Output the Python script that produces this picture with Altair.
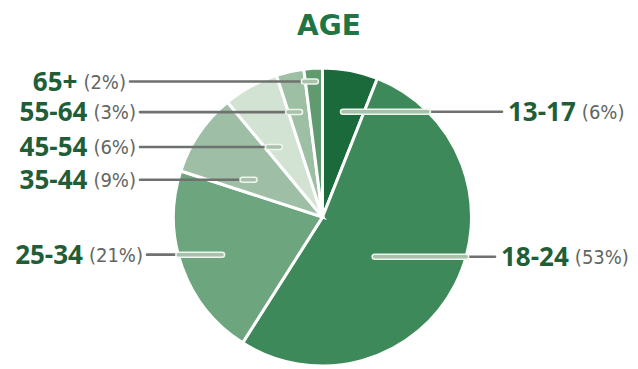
import altair as alt
import pandas as pd
import numpy as np

# ---- data ----
categories = ["13-17", "18-24", "25-34", "35-44", "45-54", "55-64", "65+"]
shares = [6, 53, 21, 9, 6, 3, 2]
title_text = ["AGE"]

# ---- style / layout ----
colors = ["#1b6a3b", "#3d8959", "#6ca57e", "#9ebfa6", "#d2e3d3", "#9dc0a4", "#5f9b6e"]
W, H = 638, 369
CX, CY, R = 322.5, 217.0, 149.0
anchor_f = [0.51, 0.554, 0.49, 0.33, 0.38, 0.55, 0.61]   # position of leader start within slice angle
anchor_r = [0.72, 0.44, 0.72, 0.52, 0.55, 0.72, 0.91]    # radius fraction of leader start
line_end = [502, 495, 147, 140, 140, 140, 130]           # outer x of leader lines
light_inner = [True, True, True, False, False, False, False]

LABEL_FONT, LABEL_SIZE = "Open Sans", 26
PCT_FONT, PCT_SIZE = "DejaVu Sans Condensed, Roboto Condensed, Roboto", 20
GAP = 6
label_w = {c: 0.572 for c in "0123456789+"}
label_w["-"] = 0.322
pct_w = {c: 0.572 for c in "0123456789"}
pct_w.update({"(": 0.351, ")": 0.351, "%": 0.855})


def text_width(s, table, size):
    return sum(table.get(ch, 0.55) for ch in s) * size


shares_arr = np.array(shares, dtype=float)
total = shares_arr.sum()
cum = np.cumsum(shares_arr)
start_deg = (cum - shares_arr) / total * 360.0
span_deg = shares_arr / total * 360.0

rows = []
for i, cat in enumerate(categories):
    th = np.radians(start_deg[i] + anchor_f[i] * span_deg[i])
    ax = CX + anchor_r[i] * R * np.sin(th)
    ay = CY - anchor_r[i] * R * np.cos(th)
    right = line_end[i] > ax
    edge = CX + (1 if right else -1) * np.sqrt(max(R * R - (ay - CY) ** 2, 0.0))
    if light_inner[i]:
        lx = edge
    else:
        lx = ax + (12 if right else -12)
    pct = f"({shares[i]}%)"
    if right:
        label_x = line_end[i] + 6
        pct_x = label_x + text_width(cat, label_w, LABEL_SIZE) + GAP
        la, pa = "left", "left"
    else:
        pct_x = line_end[i] - 4
        label_x = pct_x - text_width(pct, pct_w, PCT_SIZE) - GAP
        la, pa = "right", "right"
    rows.append(dict(cat=cat, share=shares[i], idx=i, ax=ax, ay=ay, lx=lx,
                     ox=line_end[i], pct=pct, label_x=label_x, pct_x=pct_x,
                     la=la, pa=pa))

pie_df = pd.DataFrame({"cat": categories, "share": shares, "idx": range(len(categories))})
lab_df = pd.DataFrame(rows)
title_df = pd.DataFrame({"t": title_text})

color_scale = alt.Scale(domain=categories, range=colors)

pie = alt.Chart(pie_df).mark_arc(outerRadius=R, stroke="white", strokeWidth=3).encode(
    theta=alt.Theta("share:Q", stack=True),
    order=alt.Order("idx:Q"),
    color=alt.Color("cat:N", scale=color_scale, legend=None),
    x=alt.value(CX),
    y=alt.value(CY),
)

base = alt.Chart(lab_df)

outer = base.mark_rule(color="#6f716f", strokeWidth=2.6, strokeCap="round").encode(
    x=alt.X("ox:Q", scale=None), x2="ax:Q", y=alt.Y("ay:Q", scale=None))
halo = base.mark_rule(color="#eef5ee", strokeWidth=6.5, strokeCap="round").encode(
    x=alt.X("ax:Q", scale=None), x2="lx:Q", y=alt.Y("ay:Q", scale=None))
inner = base.mark_rule(color="#a8c1ab", strokeWidth=3.5, strokeCap="round").encode(
    x=alt.X("ax:Q", scale=None), x2="lx:Q", y=alt.Y("ay:Q", scale=None))

labels_r = base.transform_filter("datum.la == 'left'").mark_text(
    font=LABEL_FONT, fontSize=LABEL_SIZE, fontWeight="bold", color="#1f5e37",
    align="left", baseline="middle", dy=1).encode(
    x=alt.X("label_x:Q", scale=None), y=alt.Y("ay:Q", scale=None), text="cat:N")
labels_l = base.transform_filter("datum.la == 'right'").mark_text(
    font=LABEL_FONT, fontSize=LABEL_SIZE, fontWeight="bold", color="#1f5e37",
    align="right", baseline="middle", dy=1).encode(
    x=alt.X("label_x:Q", scale=None), y=alt.Y("ay:Q", scale=None), text="cat:N")
pct_r = base.transform_filter("datum.pa == 'left'").mark_text(
    font=PCT_FONT, fontSize=PCT_SIZE, color="#626662",
    align="left", baseline="middle", dy=1).encode(
    x=alt.X("pct_x:Q", scale=None), y=alt.Y("ay:Q", scale=None), text="pct:N")
pct_l = base.transform_filter("datum.pa == 'right'").mark_text(
    font=PCT_FONT, fontSize=PCT_SIZE, color="#626662",
    align="right", baseline="middle", dy=1).encode(
    x=alt.X("pct_x:Q", scale=None), y=alt.Y("ay:Q", scale=None), text="pct:N")

title = alt.Chart(title_df).mark_text(
    font="DejaVu Sans", fontSize=28, fontWeight="bold", color="#217443",
    align="center", baseline="alphabetic").encode(
    x=alt.value(329), y=alt.value(35), text="t:N")

chart = alt.layer(pie, outer, halo, inner, labels_r, labels_l, pct_r, pct_l, title).properties(
    width=W, height=H,
    autosize=alt.AutoSizeParams(type="none"),
    padding=0,
    background="white",
).configure_view(stroke=None)

chart.save("out.html", embed_options={"renderer": "svg", "actions": False})
